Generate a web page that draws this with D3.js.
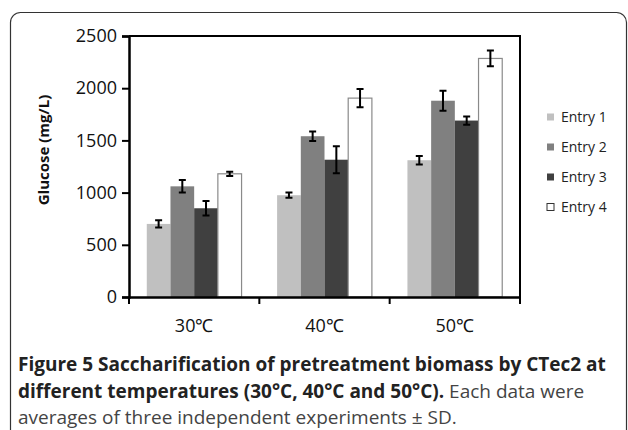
<!DOCTYPE html>
<html><head><meta charset="utf-8">
<script src="https://cdn.jsdelivr.net/npm/d3@7"></script>
<style>body{margin:0;background:#fff}svg{display:block}</style>
</head><body><svg id="c" width="628" height="430"></svg>
<script>
const categories = ["30℃", "40℃", "50℃"];
const entries = ["Entry 1", "Entry 2", "Entry 3", "Entry 4"];
const values = [
  [700, 1060, 850, 1180],
  [975, 1540, 1315, 1905],
  [1310, 1880, 1690, 2285]
];
const errors = [
  [35, 60, 70, 20],
  [25, 45, 130, 88],
  [40, 95, 40, 75]
];
const yTicks = [0, 500, 1000, 1500, 2000, 2500];
const fills = ["#c0c0c0", "#808080", "#404040", "#ffffff"];

const svg = d3.select("#c");
const m = {l: 129, r: 520, t: 36, b: 297};

// outer frame
svg.append("rect").attr("x", 10.5).attr("y", 12.5).attr("width", 616).attr("height", 460)
  .attr("rx", 10).attr("fill", "none").attr("stroke", "#333").attr("stroke-width", 1.2);

const x = d3.scaleBand().domain(categories).range([m.l, m.r]).paddingInner(0).paddingOuter(0);
const xi = d3.scaleBand().domain(entries).range([0, x.bandwidth()]).paddingInner(0).paddingOuter(0.75);
const y = d3.scaleLinear().domain([0, 2500]).range([m.b, m.t]);

// frame top/right
svg.append("path").attr("d", `M${m.l},${m.t}H${m.r}V${m.b}`).attr("fill", "none")
  .attr("stroke", "#000").attr("stroke-width", 2);

// bars
const g = svg.append("g");
categories.forEach((c, ci) => {
  entries.forEach((e, ei) => {
    const v = values[ci][ei];
    g.append("rect").attr("x", x(c) + xi(e)).attr("y", y(v))
      .attr("width", xi.bandwidth()).attr("height", y(0) - y(v))
      .attr("fill", fills[ei])
      .attr("stroke", ei === 3 ? "#8a8a8a" : "none").attr("stroke-width", 1.2);
  });
});
// error bars
categories.forEach((c, ci) => {
  entries.forEach((e, ei) => {
    const v = values[ci][ei], er = errors[ci][ei];
    const cx = x(c) + xi(e) + xi.bandwidth() / 2;
    const p = `M${cx},${y(v + er)}V${y(v - er)}M${cx - 3.5},${y(v + er)}H${cx + 3.5}M${cx - 3.5},${y(v - er)}H${cx + 3.5}`;
    g.append("path").attr("d", p).attr("stroke", "#000").attr("stroke-width", 2).attr("fill", "none");
  });
});

// y axis
const ya = svg.append("g").attr("transform", `translate(${m.l},0)`)
  .call(d3.axisLeft(y).tickValues(yTicks).tickSize(7).tickPadding(5).tickFormat(d3.format("d")));
ya.select(".domain").attr("stroke-width", 2.5);
ya.selectAll(".tick line").attr("stroke-width", 2);
ya.selectAll("text").attr("font-family", "Open Sans").attr("font-size", 18).attr("fill", "#111");

// x axis
const xa = svg.append("g").attr("transform", `translate(0,${m.b})`)
  .call(d3.axisBottom(x).tickSize(0).tickPadding(22));
xa.select(".domain").attr("stroke-width", 2.5);
xa.selectAll("text").attr("font-family", "Open Sans").attr("font-size", 18).attr("fill", "#111");
const xt = [m.l, m.l + x.bandwidth(), m.l + 2 * x.bandwidth(), m.r];
svg.append("g").selectAll("line").data(xt).join("line")
  .attr("x1", d => d).attr("x2", d => d).attr("y1", m.b).attr("y2", m.b + 7)
  .attr("stroke", "#000").attr("stroke-width", 2);

// y title
svg.append("text").attr("transform", "translate(49,150) rotate(-90)").attr("text-anchor", "middle")
  .attr("font-family", "Open Sans").attr("font-weight", "bold").attr("font-size", 15).attr("fill", "#111")
  .text("Glucose (mg/L)");

// legend
const lg = svg.append("g");
entries.forEach((e, i) => {
  const ly = 117 + i * 30;
  lg.append("rect").attr("x", 547).attr("y", ly - 3.5).attr("width", 7).attr("height", 7)
    .attr("fill", fills[i]).attr("stroke", i === 3 ? "#333" : "none");
  lg.append("text").attr("x", 561).attr("y", ly + 5).attr("font-family", "Open Sans")
    .attr("font-size", 14).attr("fill", "#222").text(e);
});

// caption
const cap = svg.append("g").attr("font-family", "Open Sans").attr("font-size", 19).attr("fill", "#222");
cap.append("text").attr("x", 18).attr("y", 371).attr("font-weight", "bold")
  .text("Figure 5 Saccharification of pretreatment biomass by CTec2 at");
const l2 = cap.append("text").attr("x", 18).attr("y", 398);
l2.append("tspan").attr("font-weight", "bold").text("different temperatures (30°C, 40°C and 50°C).");
l2.append("tspan").attr("fill", "#444").text(" Each data were");
cap.append("text").attr("x", 18).attr("y", 424).attr("fill", "#444")
  .text("averages of three independent experiments ± SD.");
</script></body></html>
